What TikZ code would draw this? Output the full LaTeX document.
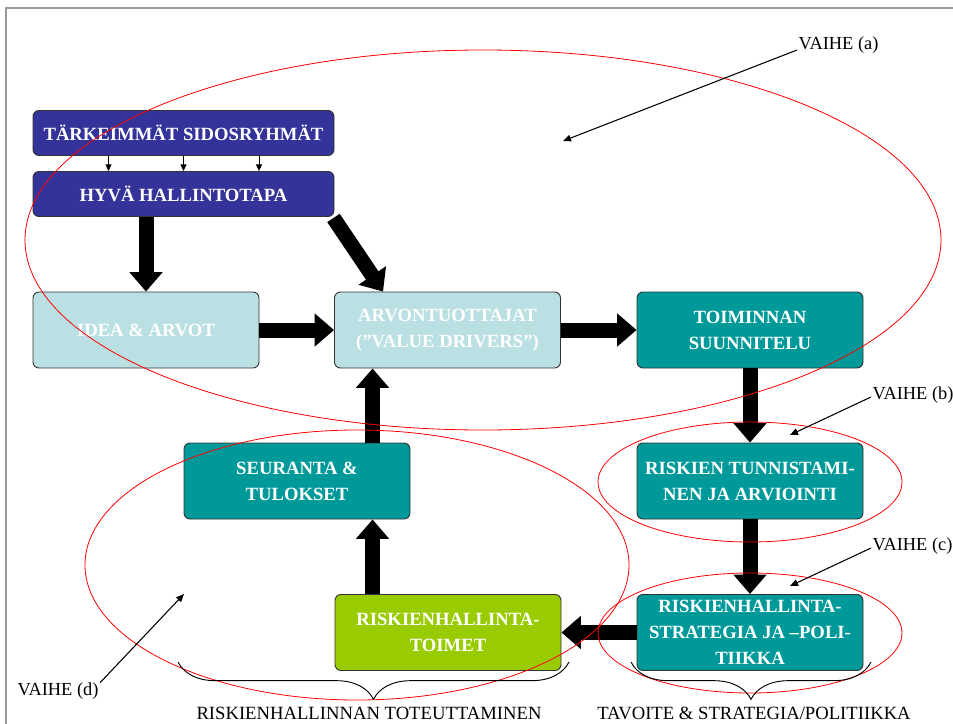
\documentclass[tikz,border=0pt]{standalone}
\usepackage{fontspec}
\setmainfont{Liberation Serif}
\usetikzlibrary{arrows.meta,calc,decorations.pathreplacing}

\definecolor{navybox}{HTML}{333399}
\definecolor{palebox}{HTML}{BBE0E3}
\definecolor{tealbox}{HTML}{009999}
\definecolor{limebox}{HTML}{99CC00}
\definecolor{framegray}{HTML}{9A9A9A}

\tikzset{
  box/.style={draw=black!80, line width=0.7pt, rounded corners=4.5pt,
    text=white, align=center, inner sep=2pt,
    font=\bfseries\fontsize{14}{19.5}\selectfont},
  widebox/.style={box, minimum width=225.75pt, minimum height=33.75pt, fill=navybox},
  stagebox/.style={box, minimum width=169.5pt, minimum height=57pt},
  blockarrow/.style={line width=11.25pt,
    -{Triangle[width=24pt,length=14.5pt]}},
  thinarrow/.style={line width=0.6pt, -{Triangle[width=4.5pt,length=5pt]}},
  pointer/.style={line width=0.8pt, -{Triangle[width=5pt,length=6pt]}},
  phase/.style={draw=red, line width=0.6pt},
  phaselabel/.style={font=\fontsize{13.8}{16}\selectfont, inner sep=1pt},
  groupbrace/.style={line width=0.7pt,
    decorate, decoration={brace, mirror, amplitude=28pt}},
  grouplabel/.style={font=\fontsize{14}{16}\selectfont, inner sep=0pt}
}

\begin{document}
\begin{tikzpicture}[x=0.75pt,y=-0.75pt]
\useasboundingbox (0,0) rectangle (953,724);

% page frame
\draw[framegray, line width=0.8pt] (6,730) -- (6,8) -- (960,8);

% governance boxes
\node[widebox] (tark) at (183.5,133) {TÄRKEIMMÄT SIDOSRYHMÄT};
\node[widebox] (hyva) at (183.5,194) {HYVÄ HALLINTOTAPA};

% process boxes
\node[stagebox, fill=palebox] (idea)  at (146,330)   {IDEA \& ARVOT};
\node[stagebox, fill=palebox] (arvon) at (447.5,330) {ARVONTUOTTAJAT\\(”VALUE DRIVERS”)};
\node[stagebox, fill=tealbox] (toim)  at (750,330)   {TOIMINNAN\\SUUNNITELU};
\node[stagebox, fill=tealbox] (risk)  at (750,481)   {RISKIEN TUNNISTAMI-\\NEN JA ARVIOINTI};
\node[stagebox, fill=tealbox] (strat) at (750,632.5) {RISKIENHALLINTA-\\STRATEGIA JA –POLI-\\TIIKKA};
\node[stagebox, fill=tealbox] (seur)  at (297,481)   {SEURANTA \&\\TULOKSET};
\node[stagebox, fill=limebox] (toimet) at (448,632.5) {RISKIENHALLINTA-\\TOIMET};

% stakeholder influence arrows
\foreach \dx in {-75,0,75.5}
  \draw[thinarrow] ($(tark.south)+(\dx,0)$) -- ($(hyva.north)+(\dx,0)$);

% main flow
\draw[blockarrow] (idea.north |- hyva.south) -- (idea.north);
\coordinate (diagtip) at ($(arvon.north west)+(49,0)$);
\draw[blockarrow] ($(hyva.south east)+(-1,1)$) -- (diagtip);
\draw[blockarrow] (idea.east) -- (arvon.west);
\draw[blockarrow] (arvon.east) -- (toim.west);
\draw[blockarrow] (toim.south) -- (risk.north);
\draw[blockarrow] (risk.south) -- (strat.north);
\draw[blockarrow] (strat.west) -- (toimet.east);
\coordinate (upline) at ($(toimet.north west)+(38,0)$);
\draw[blockarrow] (upline) -- (upline |- seur.south);
\draw[blockarrow] (upline |- seur.north) -- (upline |- arvon.south);

% phase outlines
\draw[phase] (483,240) ellipse [x radius=343.5pt, y radius=142.5pt];
\draw[phase] (750,482) ellipse [x radius=114pt, y radius=45pt];
\draw[phase] (750,633) ellipse [x radius=114pt, y radius=45pt];
\draw[phase] (357,565) ellipse [x radius=204pt, y radius=101.25pt];

% phase labels
\node[phaselabel, anchor=base west] (va) at (797,50)  {VAIHE (a)};
\node[phaselabel, anchor=base west] (vb) at (871,399) {VAIHE (b)};
\node[phaselabel, anchor=base west] (vc) at (871,550) {VAIHE (c)};
\node[phaselabel, anchor=base west] (vd) at (16,695)  {VAIHE (d)};
\coordinate (pa) at (563,141);
\coordinate (pb) at (790,435);
\coordinate (pc) at (790,586);
\coordinate (pd) at (184,594);
\draw[pointer] (va.base west) -- (pa);
\draw[pointer] ($(vb.base west)+(0,-2)$) -- (pb);
\draw[pointer] ($(vc.base west)+(0,-2)$) -- (pc);
\draw[pointer] ($(vd.north east)+(0,2)$) -- (pd);

% grouping braces
\draw[groupbrace] (178,662) -- (569,662);
\draw[groupbrace] (631,662) -- (871,662);
\node[grouplabel] (impl) at (369,713) {RISKIENHALLINNAN TOTEUTTAMINEN};
\node[grouplabel] (goal) at (754,713) {TAVOITE \& STRATEGIA/POLITIIKKA};
\end{tikzpicture}
\end{document}
